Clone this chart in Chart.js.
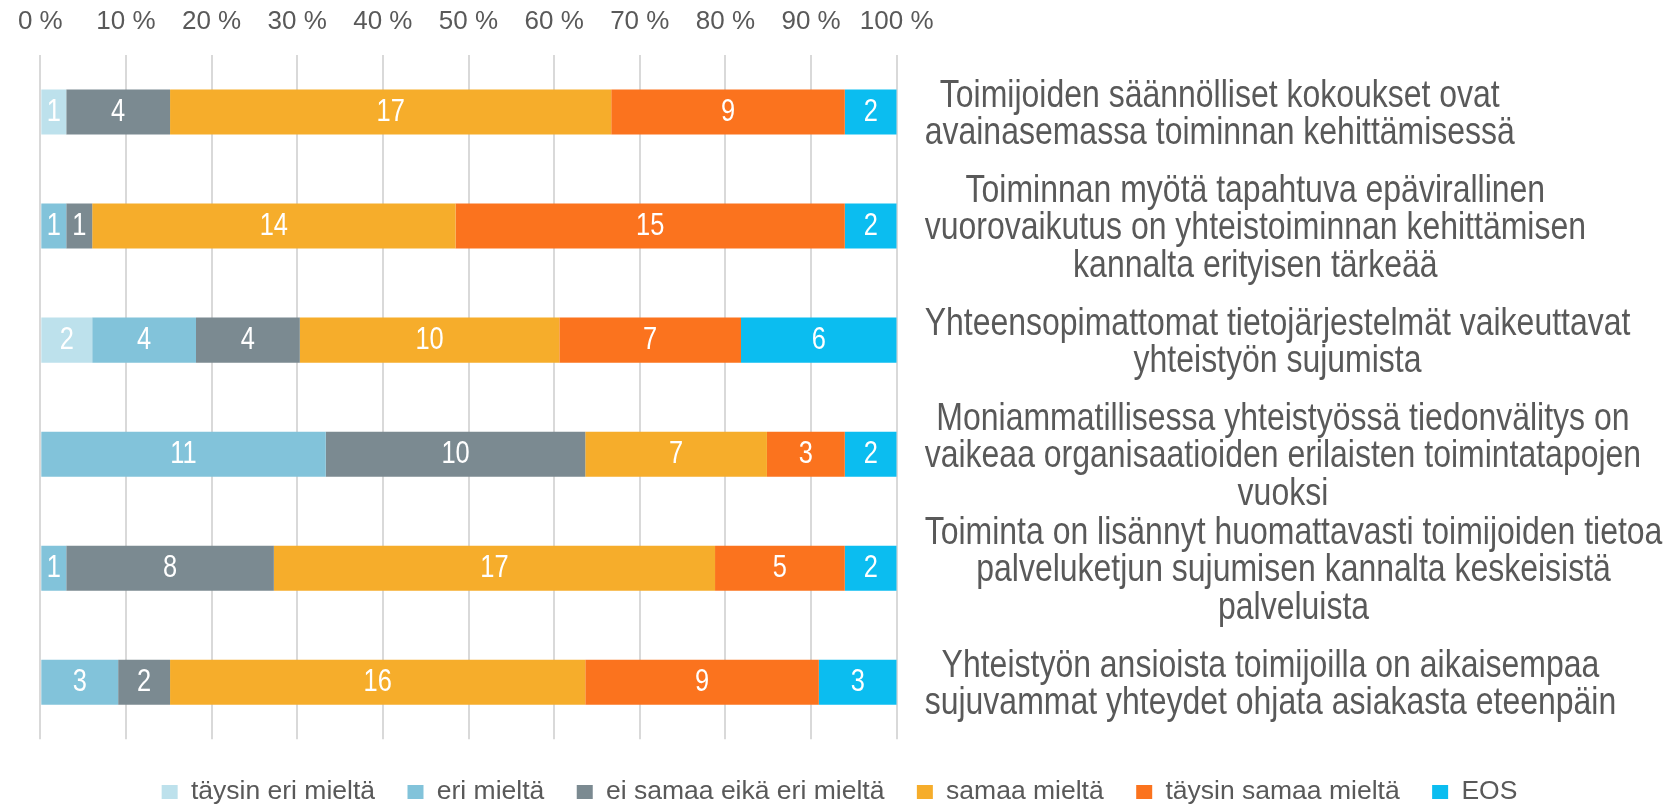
<!DOCTYPE html>
<html>
<head>
<meta charset="utf-8">
<script src="https://cdn.jsdelivr.net/npm/chart.js@4/dist/chart.umd.min.js"></script>
<style>
    html, body { margin: 0; padding: 0; background: #fff; }
    #wrap { width: 1679px; height: 805px; }
</style>
</head>
<body>
<div id="wrap"><canvas id="likertChart"></canvas></div>
<script>
// --- Statements (top to bottom) ---
const statements = [
    ["Toimijoiden säännölliset kokoukset ovat", "avainasemassa toiminnan kehittämisessä"],
    ["Toiminnan myötä tapahtuva epävirallinen", "vuorovaikutus on yhteistoiminnan kehittämisen", "kannalta erityisen tärkeää"],
    ["Yhteensopimattomat tietojärjestelmät vaikeuttavat", "yhteistyön sujumista"],
    ["Moniammatillisessa yhteistyössä tiedonvälitys on", "vaikeaa organisaatioiden erilaisten toimintatapojen", "vuoksi"],
    ["Toiminta on lisännyt huomattavasti toimijoiden tietoa", "palveluketjun sujumisen kannalta keskeisistä", "palveluista"],
    ["Yhteistyön ansioista toimijoilla on aikaisempaa", "sujuvammat yhteydet ohjata asiakasta eteenpäin"]
];

// --- Answer counts per response option ---
const answerNames = ["täysin eri mieltä", "eri mieltä", "ei samaa eikä eri mieltä", "samaa mieltä", "täysin samaa mieltä", "EOS"];
const taysinEri   = [1, 0, 2, 0, 0, 0];
const eri         = [0, 1, 4, 11, 1, 3];
const eiSamaa     = [4, 1, 4, 10, 8, 2];
const samaa       = [17, 14, 10, 7, 17, 16];
const taysinSamaa = [9, 15, 7, 3, 5, 9];
const eos         = [2, 2, 6, 2, 2, 3];
const answerColors = ["#BDE1EC", "#82C3DA", "#7B8A91", "#F6AD2B", "#FB731E", "#0BBDF0"];

const xTicks = [0, 10, 20, 30, 40, 50, 60, 70, 80, 90, 100];

const countSeries = [taysinEri, eri, eiSamaa, samaa, taysinSamaa, eos];
const rowTotals = statements.map((_, i) => countSeries.reduce((s, arr) => s + arr[i], 0));

const textGrey = "#595959";
const narrow = 0.82; // narrow face look for the in-bar numbers and the statements
Chart.defaults.font.family = "'Liberation Sans', Arial, sans-serif";

// Draw the counts in white inside each segment
const segmentLabels = {
    id: "segmentLabels",
    afterDatasetsDraw(chart) {
        const ctx = chart.ctx;
        ctx.save();
        ctx.font = "31px 'Liberation Sans', Arial, sans-serif";
        ctx.fillStyle = "#ffffff";
        ctx.textAlign = "center";
        ctx.textBaseline = "middle";
        chart.data.datasets.forEach((ds, di) => {
            const meta = chart.getDatasetMeta(di);
            meta.data.forEach((bar, i) => {
                const count = ds.counts[i];
                if (!count) return;
                const p = bar.getCenterPoint();
                ctx.save();
                ctx.translate(p.x, p.y);
                ctx.scale(narrow, 1);
                ctx.fillText(String(count), 0, 0);
                ctx.restore();
            });
        });
        ctx.restore();
    }
};

// Statement text on the right: block left aligned, lines centred within block
const statementLabels = {
    id: "statementLabels",
    afterDraw(chart) {
        const scale = chart.scales.y;
        const ctx = chart.ctx;
        ctx.save();
        ctx.font = "39px 'Liberation Sans', Arial, sans-serif";
        ctx.fillStyle = textGrey;
        ctx.textAlign = "center";
        ctx.textBaseline = "middle";
        const x0 = scale.left + 28;
        const lineH = 37.5;
        statements.forEach((lines, i) => {
            const y = scale.getPixelForTick(i) + 2.5;
            const w = Math.max(...lines.map(l => ctx.measureText(l).width)) * narrow;
            lines.forEach((line, j) => {
                ctx.save();
                ctx.translate(x0 + w / 2, y + (j - (lines.length - 1) / 2) * lineH);
                ctx.scale(narrow, 1);
                ctx.fillText(line, 0, 0);
                ctx.restore();
            });
        });
        ctx.restore();
    }
};

const datasets = countSeries.map((arr, k) => ({
    label: answerNames[k],
    data: arr.map((v, i) => v / rowTotals[i] * 100),
    counts: arr,
    backgroundColor: answerColors[k],
    borderWidth: 0,
    barPercentage: 0.395,
    categoryPercentage: 1.0
}));

// empty spacer axes: keep the plot off the left edge and the legend a bit lower,
// while the legend stays centred on the whole canvas
const spacer = {
    display: true,
    grid: { display: false },
    border: { display: false },
    ticks: { display: false }
};

new Chart(document.getElementById("likertChart"), {
    type: "bar",
    data: { labels: statements, datasets: datasets },
    options: {
        indexAxis: "y",
        responsive: true,
        maintainAspectRatio: false,
        animation: false,
        layout: { padding: { top: -12, left: 0, right: 0, bottom: -10.3 } },
        plugins: {
            legend: {
                position: "bottom",
                labels: {
                    color: textGrey,
                    font: { size: 26.5 },
                    boxWidth: 16,
                    boxHeight: 14,
                    padding: 32.5
                }
            },
            tooltip: { enabled: false }
        },
        scales: {
            x: {
                position: "top",
                stacked: true,
                min: 0,
                max: 100,
                afterBuildTicks: (scale) => { scale.ticks = xTicks.map(v => ({ value: v })); },
                grid: { color: "#D9D9D9", lineWidth: 2, drawTicks: false },
                border: { display: false },
                ticks: {
                    color: textGrey,
                    font: { size: 26 },
                    padding: 17.9,
                    maxRotation: 0,
                    autoSkip: false,
                    callback: (value) => value + " %"
                }
            },
            y: {
                position: "right",
                stacked: true,
                grid: { display: false },
                border: { display: false },
                ticks: { display: false },
                afterFit: (scale) => { scale.width = 782.3; }
            },
            yPad: Object.assign({ type: "linear", position: "left",
                afterFit: (scale) => { scale.width = 36.7; } }, spacer),
            xPad: Object.assign({ type: "linear", position: "bottom",
                afterFit: (scale) => { scale.height = 7; } }, spacer)
        }
    },
    plugins: [segmentLabels, statementLabels]
});
</script>
</body>
</html>
